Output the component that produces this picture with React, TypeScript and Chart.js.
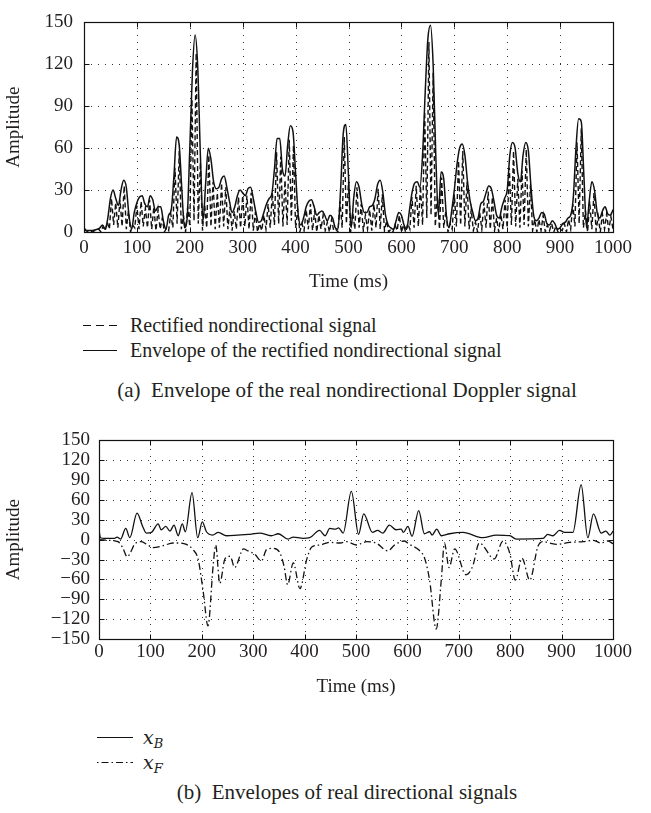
import React, { useEffect, useRef } from 'react';
import { Chart, registerables } from 'chart.js';

Chart.register(...registerables);

const FONT = "'Liberation Serif', 'Times New Roman', serif";
const INK = '#231f20';

// ---------- Panel (a): envelope sampled every 5 ms ----------
const envelopeStepMs = 5;
const envelopeValues = [
  3, 1, 1, 1, 1.5, 2, 3, 5, 2, 10,
  24, 30, 24, 19, 30, 37, 32, 12, 2, 14,
  21, 25, 26, 20, 18, 26, 23, 15, 18, 18,
  8, 2, 12, 16, 40, 68, 62, 30, 3, 10,
  60, 115, 141, 118, 55, 8, 35, 60, 52, 36,
  31, 32, 38, 40, 32, 22, 14, 18, 26, 30,
  28, 26, 31, 32, 24, 14, 7, 8, 14, 20,
  24, 27, 45, 67, 67, 45, 40, 62, 76, 72,
  42, 12, 5, 10, 18, 22, 23, 18, 12, 14,
  15, 12, 8, 12, 10, 3, 2, 30, 70, 77,
  40, 3, 25, 36, 32, 20, 14, 14, 18, 19,
  24, 34, 37, 28, 12, 5, 3, 2, 8, 14,
  12, 5, 2, 15, 28, 35, 36, 32, 55, 100,
  138, 148, 120, 55, 12, 43, 38, 12, 3, 15,
  30, 48, 60, 63, 55, 36, 22, 14, 8, 10,
  20, 22, 28, 33, 31, 22, 12, 10, 18, 24,
  30, 55, 64, 60, 42, 36, 55, 64, 58, 32,
  12, 8, 10, 14, 13, 6, 5, 8, 6, 2,
  3, 6, 7, 10, 12, 25, 60, 81, 79, 40,
  3, 22, 36, 30, 14, 10, 15, 18, 13, 12,
  16,
];

// rectified signal: troughs at 0, 8, ..., 1000 ms and peaks at 4, 12, ..., 996 ms
const rectifiedStepMs = 8;
const rectifiedTroughs = [
  1, 0, 0, 1, 0, 1, 2, 5, 3, 4,
  2, 0, 3, 2, 4, 3, 2, 1, 2, 0,
  1, 3, 6, 2, 0, 4, 8, 6, 1, 3,
  4, 2, 3, 4, 2, 1, 2, 3, 4, 2,
  1, 0, 1, 2, 3, 5, 6, 4, 5, 8,
  3, 0, 1, 2, 1, 0, 2, 1, 0, 1,
  0, 3, 6, 0, 2, 3, 1, 2, 1, 3,
  2, 1, 0, 0, 1, 0, 0, 2, 3, 4,
  5, 10, 12, 4, 2, 3, 0, 2, 4, 5,
  4, 2, 1, 0, 2, 3, 2, 1, 0, 2,
  3, 5, 4, 3, 5, 4, 1, 0, 1, 0,
  1, 0, 0, 1, 0, 2, 4, 6, 3, 0,
  2, 1, 0, 2, 1, 2,
];
const rectifiedPeaks = [
  1, 1, 1, 2, 4, 7, 24, 21, 23, 33,
  15, 5, 19, 22, 17, 23, 18, 16, 10, 3,
  13, 46, 58, 12, 18, 95, 128, 50, 20, 55,
  36, 28, 35, 32, 18, 15, 25, 26, 26, 28,
  14, 6, 12, 20, 28, 57, 54, 37, 66, 62,
  16, 6, 16, 20, 15, 12, 12, 7, 9, 2,
  22, 68, 36, 14, 32, 20, 12, 16, 20, 31,
  27, 8, 2, 5, 12, 5, 6, 25, 33, 33,
  86, 136, 114, 26, 39, 15, 6, 27, 51, 58,
  36, 16, 7, 14, 21, 29, 25, 10, 13, 23,
  46, 58, 38, 44, 59, 34, 9, 9, 12, 5,
  6, 4, 2, 6, 9, 20, 64, 74, 15, 22,
  28, 11, 13, 13, 11,
];

// ---------- Panel (b): directional envelopes ----------
const xBTimes = [
  0, 3, 10, 20, 30, 35, 42, 52, 60, 74,
  85, 92, 102, 115, 121, 130, 138, 146, 154, 162,
  168, 181, 192, 201, 209, 221, 232, 248, 270, 290,
  313, 335, 349, 368, 378, 397, 410, 429, 440, 449,
  460, 466, 475, 491, 505, 515, 532, 542, 552, 565,
  578, 588, 592, 601, 609, 622, 633, 643, 648, 657,
  666, 682, 708, 747, 773, 799, 812, 864, 873, 883,
  896, 906, 922, 938, 951, 962, 977, 986, 994, 1000,
];
const xBValues = [
  14, 3, 2, 2, 2, 4, 1, 17, 3, 40,
  20, 10, 11, 24, 15, 20, 13, 22, 6, 24,
  12, 71, 3, 27, 12, 7, 11, 6, 7, 8,
  10, 6, 9, 1, 4, 2, 3, 14, 6, 17,
  16, 18, 10, 73, 8, 39, 11, 14, 10, 22,
  15, 16, 11, 20, 5, 44, 9, 12, 7, 16,
  6, 9, 11, 3, 7, 6, 1, 2, 8, 6,
  14, 11, 11, 83, 3, 39, 10, 13, 7, 13,
];
const xFTimes = [
  0, 20, 37, 46, 55, 62, 69, 82, 95, 105,
  125, 144, 157, 170, 183, 193, 203, 212, 222, 227,
  235, 245, 255, 264, 281, 290, 303, 316, 326, 339,
  352, 360, 367, 378, 391, 404, 414, 430, 449, 469,
  482, 501, 521, 539, 562, 575, 594, 604, 623, 633,
  643, 656, 666, 672, 681, 692, 714, 727, 740, 769,
  786, 799, 810, 823, 838, 854, 864, 877, 890, 916,
  942, 961, 977, 990, 1000,
];
const xFValues = [
  0, -1, -3, -12, -26, -18, -7, -3, -8, -12,
  -9, -5, -5, -7, -15, -30, -80, -130, -40, -8,
  -66, -29, -25, -42, -14, -17, -22, -32, -15, -13,
  -20, -40, -68, -35, -74, -30, -11, -8, -4, -5,
  -3, -8, -3, -5, -17, -8, -2, -7, -16, -27,
  -60, -135, -60, -5, -42, -14, -53, -40, -5, -29,
  -2, -20, -61, -28, -61, -10, -3, -5, -7, -4,
  -3, -1, -5, -2, -6,
];

const timeTicks = [0, 100, 200, 300, 400, 500, 600, 700, 800, 900, 1000];
const topAmpTicks = [0, 30, 60, 90, 120, 150];
const bottomAmpTicks = [-150, -120, -90, -60, -30, 0, 30, 60, 90, 120, 150];

// ---------- datasets built from the arrays ----------
const envelopeData = envelopeValues.map((y, i) => ({ x: i * envelopeStepMs, y }));
const rectifiedData: { x: number; y: number }[] = [];
rectifiedTroughs.forEach((y, i) => {
  rectifiedData.push({ x: i * rectifiedStepMs, y });
  if (i < rectifiedPeaks.length) {
    rectifiedData.push({ x: i * rectifiedStepMs + rectifiedStepMs / 2, y: rectifiedPeaks[i] });
  }
});
const xBData = xBTimes.map((x, i) => ({ x, y: xBValues[i] }));
const xFData = xFTimes.map((x, i) => ({ x, y: xFValues[i] }));

const framePlugin = {
  id: 'frame',
  beforeDatasetsDraw(chart: any) {
    const { ctx, chartArea: a, scales } = chart;
    const xs = scales.x;
    const ys = scales.y;
    ctx.save();
    ctx.strokeStyle = '#333';
    ctx.lineWidth = 1;
    ctx.setLineDash([1, 6]);
    xs.ticks.forEach((t: any) => {
      const px = Math.round(xs.getPixelForValue(t.value)) + 0.5;
      if (px < a.left + 2 || px > a.right - 2) return;
      ctx.beginPath();
      ctx.moveTo(px, a.bottom);
      ctx.lineTo(px, a.top);
      ctx.stroke();
    });
    ys.ticks.forEach((t: any) => {
      const py = Math.round(ys.getPixelForValue(t.value)) + 0.5;
      if (py < a.top + 2 || py > a.bottom - 2) return;
      ctx.beginPath();
      ctx.moveTo(a.left, py);
      ctx.lineTo(a.right, py);
      ctx.stroke();
    });
    ctx.restore();
  },
  afterDatasetsDraw(chart: any, _args: any, opts: any) {
    const { ctx, chartArea: a, scales, width } = chart;
    const xs = scales.x;
    const ys = scales.y;
    const L = Math.round(a.left) + 0.5;
    const R = Math.round(a.right) + 0.5;
    const T = Math.round(a.top) + 0.5;
    const B = Math.round(a.bottom) + 0.5;
    ctx.save();
    ctx.setLineDash([]);
    ctx.strokeStyle = '#111';
    ctx.lineWidth = 1.2;
    ctx.strokeRect(L, T, R - L, B - T);
    ctx.lineWidth = 1;
    const len = 5;
    xs.ticks.forEach((t: any) => {
      const px = Math.round(xs.getPixelForValue(t.value)) + 0.5;
      ctx.beginPath();
      ctx.moveTo(px, B);
      ctx.lineTo(px, B - len);
      ctx.moveTo(px, T);
      ctx.lineTo(px, T + len);
      ctx.stroke();
    });
    ys.ticks.forEach((t: any) => {
      const py = Math.round(ys.getPixelForValue(t.value)) + 0.5;
      ctx.beginPath();
      ctx.moveTo(L, py);
      ctx.lineTo(L + len, py);
      ctx.moveTo(R, py);
      ctx.lineTo(R - len, py);
      ctx.stroke();
    });
    // x tick labels (kept inside the picture at the right edge)
    ctx.fillStyle = INK;
    ctx.font = `${opts.labelSize}px ${FONT}`;
    ctx.textAlign = 'center';
    ctx.textBaseline = 'middle';
    xs.ticks.forEach((t: any) => {
      const label = String(t.value);
      const w = ctx.measureText(label).width;
      const px = xs.getPixelForValue(t.value);
      const cx = Math.min(px, width - 6 - w / 2);
      ctx.fillText(label, cx, a.bottom + opts.labelOffset);
    });
    ctx.restore();
  },
};

type PanelProps = {
  top: number;
  height: number;
  plotTop: number;
  plotLeft: number;
  plotRight: number;
  plotBottom: number;
  datasets: any[];
  yTicks: number[];
  tickSize: number;
  xLabelOffset: number;
  yTickPad: number;
  xTitlePad: number;
  yTitlePad: number;
};

function Panel(p: PanelProps) {
  const ref = useRef<HTMLCanvasElement>(null);
  useEffect(() => {
    const yMin = p.yTicks[0];
    const yMax = p.yTicks[p.yTicks.length - 1];
    const chart = new Chart(ref.current as HTMLCanvasElement, {
      type: 'line',
      data: { datasets: p.datasets },
      options: {
        responsive: false,
        animation: false,
        devicePixelRatio: 1,
        layout: { padding: { top: p.plotTop - p.top, left: 0, right: 651 - p.plotRight, bottom: 0 } },
        plugins: {
          legend: { display: false },
          tooltip: { enabled: false },
          frame: { labelSize: p.tickSize, labelOffset: p.xLabelOffset },
        },
        elements: { point: { radius: 0 } },
        scales: {
          x: {
            type: 'linear',
            min: 0,
            max: 1000,
            afterBuildTicks: (s: any) => {
              s.ticks = timeTicks.map((value) => ({ value }));
            },
            afterFit: (s: any) => {
              s.height = p.top + p.height - p.plotBottom;
            },
            grid: { display: false, drawTicks: false },
            border: { display: false },
            ticks: { display: false },
            title: {
              display: true,
              text: 'Time (ms)',
              color: INK,
              font: { family: FONT, size: 19 },
              padding: { top: 0, bottom: p.xTitlePad },
            },
          },
          y: {
            type: 'linear',
            min: yMin,
            max: yMax,
            afterBuildTicks: (s: any) => {
              s.ticks = p.yTicks.map((value) => ({ value }));
            },
            afterFit: (s: any) => {
              s.width = p.plotLeft;
            },
            grid: { display: false, drawTicks: false },
            border: { display: false },
            ticks: {
              color: INK,
              font: { family: FONT, size: p.tickSize },
              padding: p.yTickPad,
              autoSkip: false,
              callback: (v: any) => String(v).replace('-', '\u2212'),
            },
            title: {
              display: true,
              text: 'Amplitude',
              color: INK,
              font: { family: FONT, size: 19 },
              padding: { top: p.yTitlePad, bottom: 0 },
            },
          },
        },
      },
      plugins: [framePlugin],
    } as any);
    return () => chart.destroy();
  }, []);
  return (
    <canvas
      ref={ref}
      width={651}
      height={p.height}
      style={{ position: 'absolute', left: 0, top: p.top, width: 651, height: p.height }}
    />
  );
}

const textStyle: React.CSSProperties = {
  position: 'absolute',
  fontFamily: FONT,
  fontSize: 20,
  lineHeight: '24px',
  color: INK,
  whiteSpace: 'pre',
};

const captionStyle: React.CSSProperties = {
  ...textStyle,
  fontSize: 21,
  left: 47,
  width: 600,
  textAlign: 'center',
};

function LegendRow({ y, left, width, textLeft, dash, children }: { y: number; left: number; width: number; textLeft: number; dash: string; children: React.ReactNode }) {
  return (
    <>
      <svg style={{ position: 'absolute', left, top: y - 5 }} width={width} height={10}>
        <line x1={0} y1={5.5} x2={width} y2={5.5} stroke="#111" strokeWidth={1.2} strokeDasharray={dash} />
      </svg>
      <div style={{ ...textStyle, left: textLeft, top: y - 12 }}>{children}</div>
    </>
  );
}

function MathSym({ base, sub }: { base: string; sub: string }) {
  return (
    <span style={{ fontStyle: 'italic', fontFamily: "'DejaVu Serif', serif", fontSize: 19 }}>
      {base}
      <span style={{ fontSize: 13, position: 'relative', top: 4 }}>{sub}</span>
    </span>
  );
}

export default function App() {
  const topDatasets = [
    {
      label: 'Rectified nondirectional signal',
      data: rectifiedData,
      borderColor: '#111',
      borderWidth: 1.4,
      borderDash: [5, 3],
      tension: 0,
      fill: false,
    },
    {
      label: 'Envelope of the rectified nondirectional signal',
      data: envelopeData,
      borderColor: '#111',
      borderWidth: 1.5,
      cubicInterpolationMode: 'monotone',
      fill: false,
    },
  ];
  const bottomDatasets = [
    {
      label: 'x_B',
      data: xBData,
      borderColor: '#111',
      borderWidth: 1.3,
      cubicInterpolationMode: 'monotone',
      fill: false,
    },
    {
      label: 'x_F',
      data: xFData,
      borderColor: '#111',
      borderWidth: 1.3,
      borderDash: [7, 3, 1.5, 3],
      cubicInterpolationMode: 'monotone',
      fill: false,
    },
  ];
  return (
    <div style={{ position: 'absolute', left: 0, top: 0, width: 651, height: 813, background: '#fff', overflow: 'hidden' }}>
      <Panel
        top={0}
        height={300}
        plotTop={13}
        plotLeft={84}
        plotRight={613}
        plotBottom={232}
        datasets={topDatasets}
        yTicks={topAmpTicks}
        tickSize={19}
        xLabelOffset={16}
        yTickPad={11}
        xTitlePad={7}
        yTitlePad={3}
      />
      <LegendRow y={325} left={83} width={34} textLeft={130} dash="8 5">
        Rectified nondirectional signal
      </LegendRow>
      <LegendRow y={350} left={83} width={34} textLeft={130} dash="">
        Envelope of the rectified nondirectional signal
      </LegendRow>
      <div style={{ ...captionStyle, top: 390 - 12 }}>
        {'(a)  Envelope of the real nondirectional Doppler signal'}
      </div>

      <Panel
        top={420}
        height={285}
        plotTop={435}
        plotLeft={99}
        plotRight={613}
        plotBottom={639}
        datasets={bottomDatasets}
        yTicks={bottomAmpTicks}
        tickSize={19}
        xLabelOffset={13}
        yTickPad={9}
        xTitlePad={7}
        yTitlePad={3}
      />
      <LegendRow y={737} left={97} width={36} textLeft={143} dash="">
        <MathSym base="x" sub="B" />
      </LegendRow>
      <LegendRow y={762} left={97} width={36} textLeft={143} dash="1.5 3 7 3">
        <MathSym base="x" sub="F" />
      </LegendRow>
      <div style={{ ...captionStyle, top: 792 - 12 }}>
        {'(b)  Envelopes of real directional signals'}
      </div>
    </div>
  );
}
